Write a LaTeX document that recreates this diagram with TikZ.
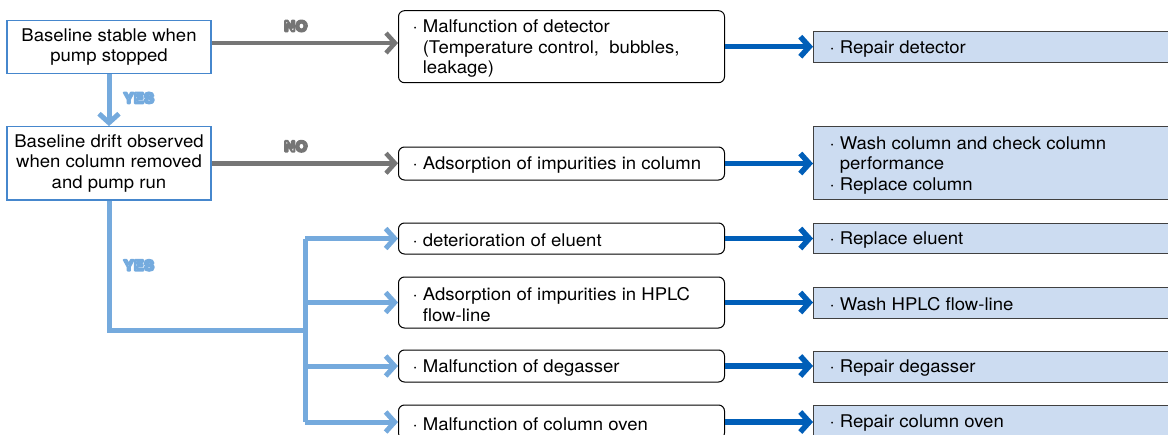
\documentclass[tikz,border=0pt]{standalone}
\usepackage{fontspec}
\setmainfont{TeX Gyre Heros}[FakeStretch=1.06]
\usetikzlibrary{arrows.meta,positioning}
\definecolor{yesblue}{RGB}{117,170,221}
\definecolor{fixblue}{RGB}{0,94,184}
\definecolor{nogray}{RGB}{118,118,118}
\definecolor{fixfill}{RGB}{204,220,241}
\definecolor{askborder}{RGB}{70,135,205}
\newcommand{\bdot}{\textperiodcentered\ }
\newcommand{\bind}{\hphantom{\textperiodcentered}\ }
% white letters with a thick coloured outline
\newcommand{\outlined}[2]{\textcolor{white}{\special{pdf:literal 2 Tr 2.1 w 1 j #1 RG}#2\special{pdf:literal 0 Tr}}}
\tikzset{
    question/.style={rectangle, draw=askborder, fill=white, line width=1.2pt, minimum width=204pt, align=center, inner sep=0pt},
    cause/.style={rectangle, rounded corners=6pt, draw=black, line width=1pt, text width=298pt, inner xsep=14pt, inner ysep=0pt, align=flush left, anchor=west, execute at begin node={\rule{0pt}{16.8pt}}},
    remedy/.style={rectangle, draw=black!75, fill=fixfill, line width=1pt, text width=350pt, inner xsep=16pt, inner ysep=0pt, align=flush left, anchor=west, execute at begin node={\rule{0pt}{16.8pt}}},
    noline/.style={draw=nogray, line width=4.5pt, -{Straight Barb[length=9pt,width=20pt]}},
    yesline/.style={draw=yesblue, line width=5pt},
    yesarrow/.style={yesline, -{Straight Barb[length=9pt,width=20pt]}},
    fixarrow/.style={draw=fixblue, line width=5.5pt, -{Straight Barb[length=9pt,width=20pt]}},
    nolabel/.style={font=\fontsize{14.5}{15}\bfseries, inner sep=0pt},
}

\begin{document}
\begin{tikzpicture}[x=1pt, y=-1pt, every node/.append style={font=\fontsize{17.5}{20.5}\selectfont}]
    \useasboundingbox (0,0) rectangle (1168,434);
    \clip (0,0) rectangle (1168,434);

    % Checks
    \node[question, minimum height=52.6pt] (stable) at (109,47) {Baseline stable when\\pump stopped};
    \node[question, minimum height=73.3pt] (drift) at (109,163.3) {Baseline drift observed\\when column removed\\and pump run};

    % Causes
    \node[cause, minimum height=72pt] (detector) at (398,46.7) {\bdot Malfunction of detector\\\bind(Temperature control,~ bubbles,\\\bind leakage)};
    \node[cause, minimum height=33pt] (colimp) at (398,163.5) {\bdot Adsorption of impurities in column};
    \node[cause, minimum height=31pt] (eluent) at (398,238.5) {\bdot deterioration of eluent};
    \node[cause, minimum height=51pt] (flowline) at (398,302.5) {\bdot Adsorption of impurities in HPLC\\\bind flow-line};
    \node[cause, minimum height=32pt] (degasser) at (398,366) {\bdot Malfunction of degasser};
    \node[cause, minimum height=34pt] (oven) at (398,422) {\bdot Malfunction of column oven};

    % Remedies
    \node[remedy, minimum height=31pt] (repdet) at (813,47.2) {\bdot Repair detector};
    \node[remedy, minimum height=73.3pt] (repcol) at (813,163.3) {\bdot Wash column and check column\\\bind performance\\\bdot Replace column};
    \node[remedy, minimum height=30pt] (repelu) at (813,238) {\bdot Replace eluent};
    \node[remedy, minimum height=31pt] (washfl) at (813,302.5) {\bdot Wash HPLC flow-line};
    \node[remedy, minimum height=31pt] (repdeg) at (813,366.5) {\bdot Repair degasser};
    \node[remedy, minimum height=32pt] (repoven) at (813,421) {\bdot Repair column oven};

    % NO branches
    \draw[noline] ([yshift=4pt]stable.east) -- ([yshift=4pt]stable.east -| detector.west)
        node[nolabel, midway, xshift=-9pt, yshift=17pt] {\outlined{0.46 0.46 0.46}{NO}};
    \draw[noline] (drift.east) -- (drift.east -| colimp.west)
        node[nolabel, midway, xshift=-9pt, yshift=17pt] {\outlined{0.46 0.46 0.46}{NO}};

    % YES branches
    \draw[yesarrow] (stable.south) -- (drift.north)
        node[nolabel, midway, anchor=west, xshift=12pt, yshift=2pt] {\outlined{0.46 0.67 0.87}{YES}};
    \coordinate (fork) at (305,330);
    \draw[yesline] (drift.south) |- (fork)
        node[nolabel, pos=0.25, anchor=west, xshift=12pt] {\outlined{0.46 0.67 0.87}{YES}};
    \draw[yesline] (fork |- eluent.west) -- (fork |- oven.west);
    \foreach \c in {eluent,flowline,degasser,oven}
        \draw[yesarrow] (fork |- \c.west) -- (\c.west);

    % Remedy arrows
    \foreach \c/\r in {detector/repdet, colimp/repcol, eluent/repelu, flowline/washfl, degasser/repdeg, oven/repoven}
        \draw[fixarrow] (\c.east) -- (\c.east -| \r.west);
\end{tikzpicture}
\end{document}
